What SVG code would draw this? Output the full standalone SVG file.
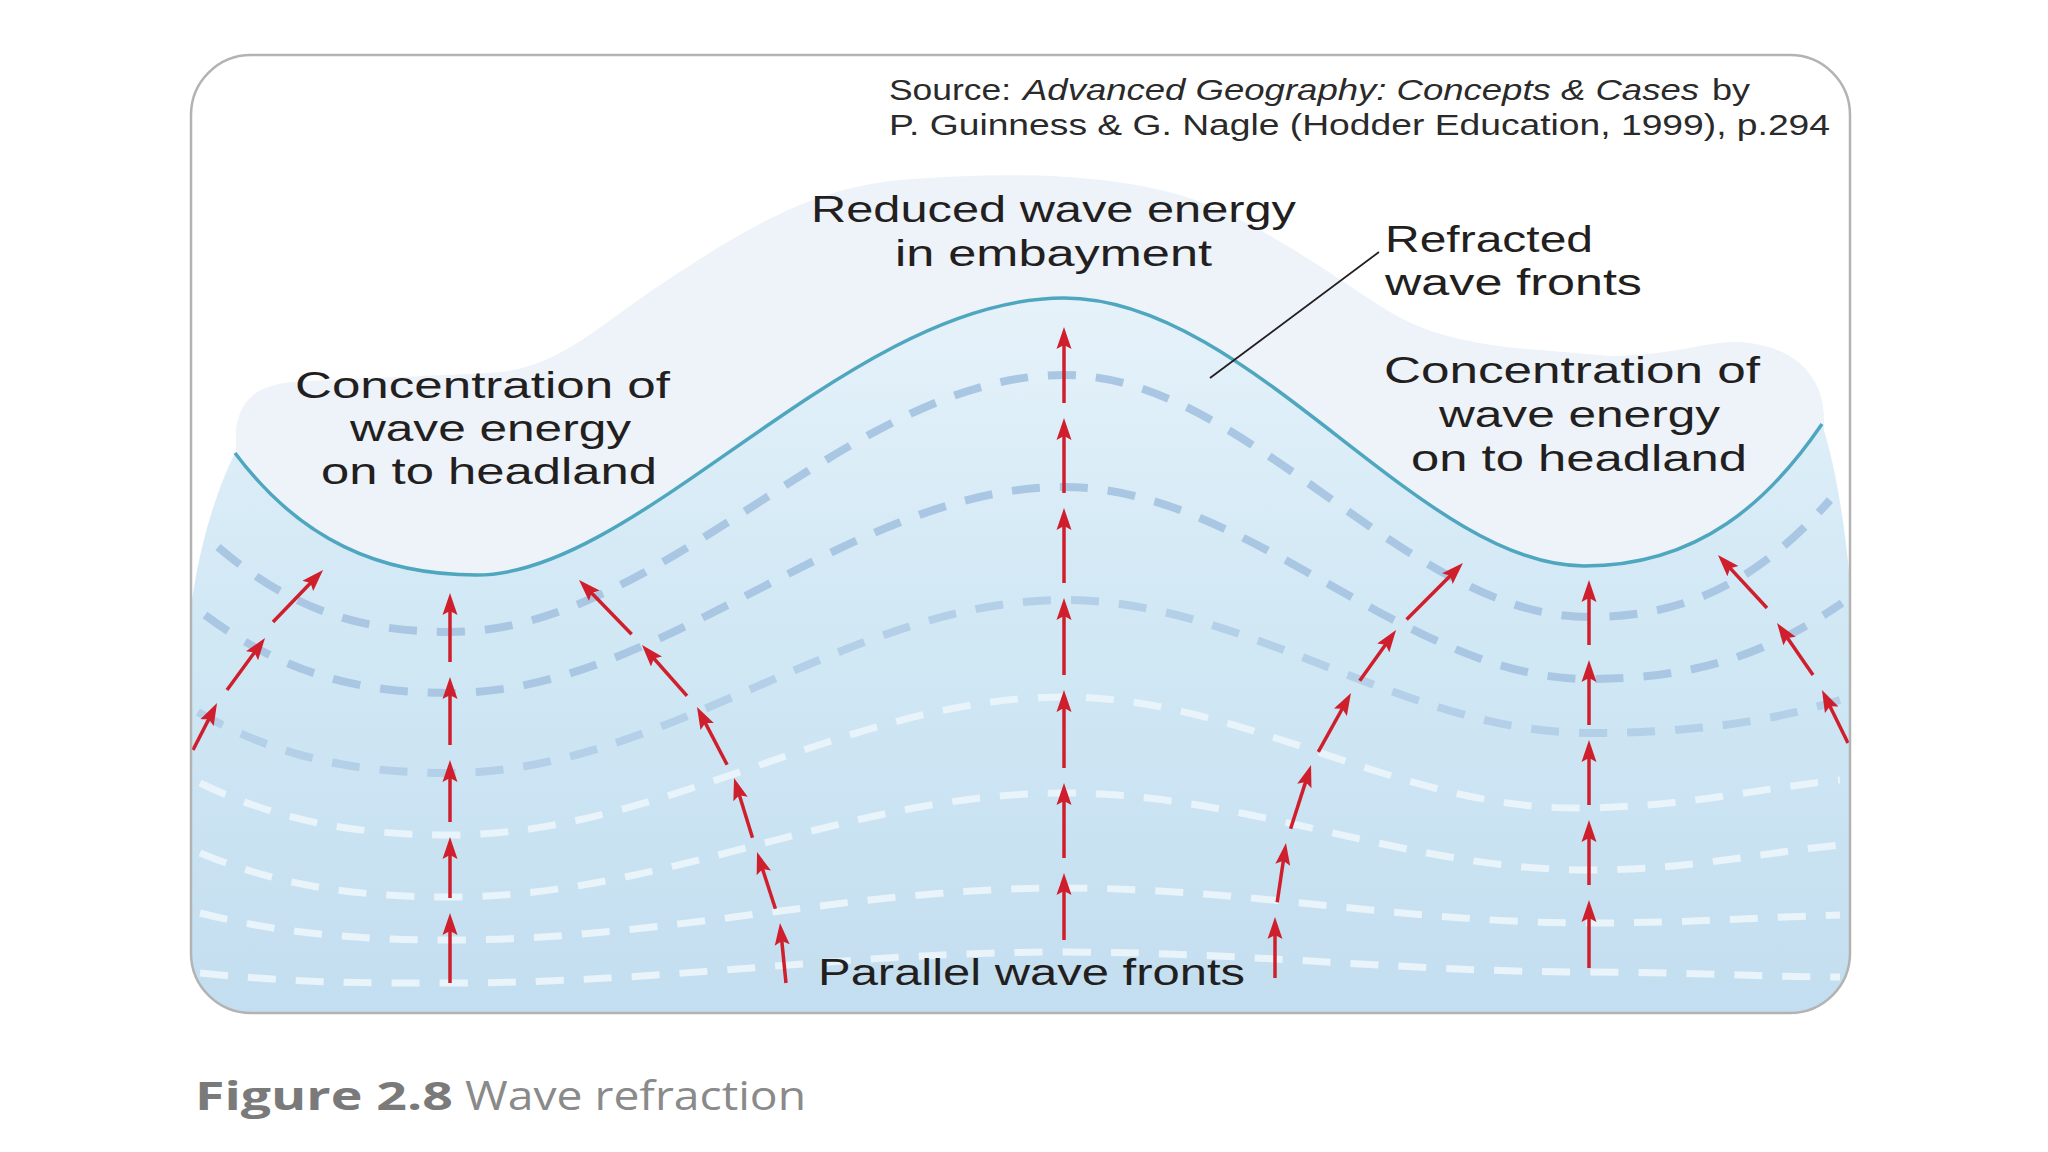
<svg xmlns="http://www.w3.org/2000/svg" width="2048" height="1152" viewBox="0 0 2048 1152">
  <style>
    .lbl { font-family: "Liberation Sans", Arial, sans-serif; font-size: 37px; fill: #231f20; }
    .src { font-family: "Liberation Sans", Arial, sans-serif; font-size: 30px; fill: #2a2a2a; }
    .cap { font-family: "Open Sans", "Liberation Sans", sans-serif; font-size: 40px; }
    .dk { fill: none; stroke: #a9c7e3; stroke-width: 8; stroke-dasharray: 28 20; }
    .dk2 { fill: none; stroke: #b4d0e8; stroke-width: 8; stroke-dasharray: 28 20; }
    .wt { fill: none; stroke: #e8f3fa; stroke-width: 7; stroke-dasharray: 28 20; }
    .arr line { stroke: #cf1f2c; stroke-width: 3.5; marker-end: url(#ah); }
  </style>
  <defs>
    <marker id="ah" markerUnits="userSpaceOnUse" viewBox="0 -8 24 16" refX="14" refY="0" markerWidth="24" markerHeight="16" orient="auto">
      <path d="M0,-7.5 L22,0 L0,7.5 L4,0 Z" fill="#cf1f2c"/>
    </marker>
    <linearGradient id="seaGrad" gradientUnits="userSpaceOnUse" x1="0" y1="300" x2="0" y2="1010">
      <stop offset="0" stop-color="#e6f2fa"/>
      <stop offset="0.4" stop-color="#d3e9f5"/>
      <stop offset="1" stop-color="#c3def0"/>
    </linearGradient>
    <clipPath id="frameClip">
      <rect x="191" y="55" width="1659" height="958" rx="60" ry="60"/>
    </clipPath>
  </defs>

  <rect width="2048" height="1152" fill="#ffffff"/>

  <g id="frame">
    <rect x="191" y="55" width="1659" height="958" rx="60" ry="60" fill="#ffffff"/>
  </g>

  <g id="landscape" clip-path="url(#frameClip)">
    <path id="land" fill="#edf3f9" d="M236,600 L236,430 C240,400 255,386 292,382 C360,378 440,376 500,372 C560,366 600,325 660,285 C740,232 810,188 900,180 C1000,172 1100,172 1180,195 C1260,220 1330,275 1390,312 C1430,336 1480,346 1540,350 L1610,356 C1680,356 1710,338 1750,343 C1800,350 1824,380 1824,420 L1824,600 Z"/>
    <path id="sea" fill="url(#seaGrad)" d="M235,453 C300,540 380,575 477,575 C640,575 850,298 1064,298 C1250,298 1420,566 1584,566 C1700,566 1770,500 1822,424 C1840,480 1850,560 1854,640 L1854,1016 L187,1016 L187,640 C195,560 212,500 235,453 Z"/>

    <g id="wave-fronts">
      <path class="dk" d="M218,547 C288,607 357,632 450,632 C665,632 849,375 1064,375 C1248,375 1405,617 1589,617 C1685,617 1758,582 1830,500"/>
      <path class="dk" d="M205,615 C279,670 352,693 450,693 C665,693 849,487 1064,487 C1248,487 1405,679 1589,679 C1690,679 1766,656 1842,603"/>
      <path class="dk2" d="M198,712 C274,755 349,773 450,773 C665,773 849,600 1064,600 C1248,600 1405,733 1589,733 C1689,733 1765,723 1840,700"/>
      <path class="wt" d="M200,783 C275,819 350,835 450,835 C665,835 849,697 1064,697 C1243,697 1396,808 1575,808 C1681,808 1760,788 1840,780"/>
      <path class="wt" d="M200,853 C275,884 350,897 450,897 C665,897 849,793 1064,793 C1248,793 1405,870 1589,870 C1690,870 1765,852 1840,845"/>
      <path class="wt" d="M200,913 C275,932 350,940 450,940 C665,940 849,888 1064,888 C1248,888 1405,923 1589,923 C1690,923 1765,917 1840,915"/>
      <path class="wt" d="M200,973 C300,983 350,983 450,983 C665,983 849,952 1064,952 C1248,952 1405,972 1589,972 C1690,972 1765,977 1840,977"/>
    </g>

    <g id="coastline">
      <path d="M235,453 C300,540 380,575 477,575 C640,575 850,298 1064,298 C1250,298 1420,566 1584,566 C1700,566 1770,500 1822,424" fill="none" stroke="#4ea6bf" stroke-width="3.5"/>
    </g>

    <g id="connectors" class="arr">
      <!-- left headland column -->
      <line x1="450" y1="983" x2="450" y2="921"/>
      <line x1="450" y1="898" x2="450" y2="845"/>
      <line x1="450" y1="822" x2="450" y2="768"/>
      <line x1="450" y1="745" x2="450" y2="685"/>
      <line x1="450" y1="662" x2="450" y2="601"/>
      <!-- centre embayment column -->
      <line x1="1064" y1="940" x2="1064" y2="881"/>
      <line x1="1064" y1="858" x2="1064" y2="791"/>
      <line x1="1064" y1="768" x2="1064" y2="698"/>
      <line x1="1064" y1="675" x2="1064" y2="606"/>
      <line x1="1064" y1="583" x2="1064" y2="516"/>
      <line x1="1064" y1="493" x2="1064" y2="426"/>
      <line x1="1064" y1="403" x2="1064" y2="335"/>
      <!-- right headland column -->
      <line x1="1589" y1="968" x2="1589" y2="908"/>
      <line x1="1589" y1="885" x2="1589" y2="828"/>
      <line x1="1589" y1="805" x2="1589" y2="748"/>
      <line x1="1589" y1="725" x2="1589" y2="668"/>
      <line x1="1589" y1="645" x2="1589" y2="588"/>
      <!-- left outer curved chain -->
      <line x1="193" y1="750" x2="213.4" y2="710.1"/>
      <line x1="227" y1="690" x2="260.3" y2="644.5"/>
      <line x1="273" y1="622" x2="317.5" y2="575.8"/>
      <!-- left inner curved chain -->
      <line x1="786" y1="983" x2="780.8" y2="931"/>
      <line x1="775.4" y1="908.7" x2="759.5" y2="859.6"/>
      <line x1="752.5" y1="837.7" x2="736.4" y2="785.6"/>
      <line x1="727.1" y1="764.7" x2="700.7" y2="714.1"/>
      <line x1="687" y1="695.8" x2="647.3" y2="651"/>
      <line x1="631.6" y1="634.2" x2="584.6" y2="585.7"/>
      <!-- right inner curved chain -->
      <line x1="1275" y1="978" x2="1275" y2="925"/>
      <line x1="1277.2" y1="902.2" x2="1284.8" y2="850.9"/>
      <line x1="1290.6" y1="828.7" x2="1308.6" y2="772.6"/>
      <line x1="1318.3" y1="751.9" x2="1347.1" y2="700"/>
      <line x1="1359.7" y1="680.8" x2="1391.4" y2="636.5"/>
      <line x1="1406.6" y1="619.4" x2="1457.3" y2="568.7"/>
      <!-- right outer curved chain -->
      <line x1="1848" y1="743" x2="1825.5" y2="697.2"/>
      <line x1="1813" y1="675" x2="1781.6" y2="629.6"/>
      <line x1="1767" y1="608" x2="1723.4" y2="560.9"/>
    </g>
  </g>

  <rect x="191" y="55" width="1659" height="958" rx="60" ry="60" fill="none" stroke="#b3b3b3" stroke-width="2.5"/>

  <g id="leader">
    <line x1="1379" y1="252" x2="1210" y2="378" stroke="#231f20" stroke-width="1.8"/>
  </g>

  <g id="source-note">
    <text class="src" y="100"><tspan x="889" textLength="122" lengthAdjust="spacingAndGlyphs">Source:</tspan><tspan x="1023" font-style="italic" textLength="676" lengthAdjust="spacingAndGlyphs">Advanced Geography: Concepts &amp; Cases</tspan><tspan x="1712" textLength="38" lengthAdjust="spacingAndGlyphs">by</tspan></text>
    <text class="src" x="889" y="135" textLength="941" lengthAdjust="spacingAndGlyphs">P. Guinness &amp; G. Nagle (Hodder Education, 1999), p.294</text>
  </g>

  <g id="label-embayment">
    <text class="lbl" x="811" y="222" textLength="485" lengthAdjust="spacingAndGlyphs">Reduced wave energy</text>
    <text class="lbl" x="895" y="266" textLength="317" lengthAdjust="spacingAndGlyphs">in embayment</text>
  </g>

  <g id="label-refracted">
    <text class="lbl" x="1385" y="252" textLength="208" lengthAdjust="spacingAndGlyphs">Refracted</text>
    <text class="lbl" x="1385" y="295" textLength="257" lengthAdjust="spacingAndGlyphs">wave fronts</text>
  </g>

  <g id="label-headland-left">
    <text class="lbl" x="295" y="398" textLength="375" lengthAdjust="spacingAndGlyphs">Concentration of</text>
    <text class="lbl" x="350" y="441" textLength="281" lengthAdjust="spacingAndGlyphs">wave energy</text>
    <text class="lbl" x="321" y="484" textLength="336" lengthAdjust="spacingAndGlyphs">on to headland</text>
  </g>

  <g id="label-headland-right">
    <text class="lbl" x="1384" y="383" textLength="376" lengthAdjust="spacingAndGlyphs">Concentration of</text>
    <text class="lbl" x="1439" y="427" textLength="281" lengthAdjust="spacingAndGlyphs">wave energy</text>
    <text class="lbl" x="1411" y="471" textLength="336" lengthAdjust="spacingAndGlyphs">on to headland</text>
  </g>

  <g id="label-parallel">
    <text class="lbl" x="818" y="985" textLength="427" lengthAdjust="spacingAndGlyphs">Parallel wave fronts</text>
  </g>

  <g id="caption">
    <text class="cap" y="1110"><tspan x="195" font-weight="bold" fill="#7a7a7a" textLength="258" lengthAdjust="spacingAndGlyphs">Figure 2.8</tspan><tspan x="465" fill="#8a8a8a" textLength="341" lengthAdjust="spacingAndGlyphs">Wave refraction</tspan></text>
  </g>
</svg>
